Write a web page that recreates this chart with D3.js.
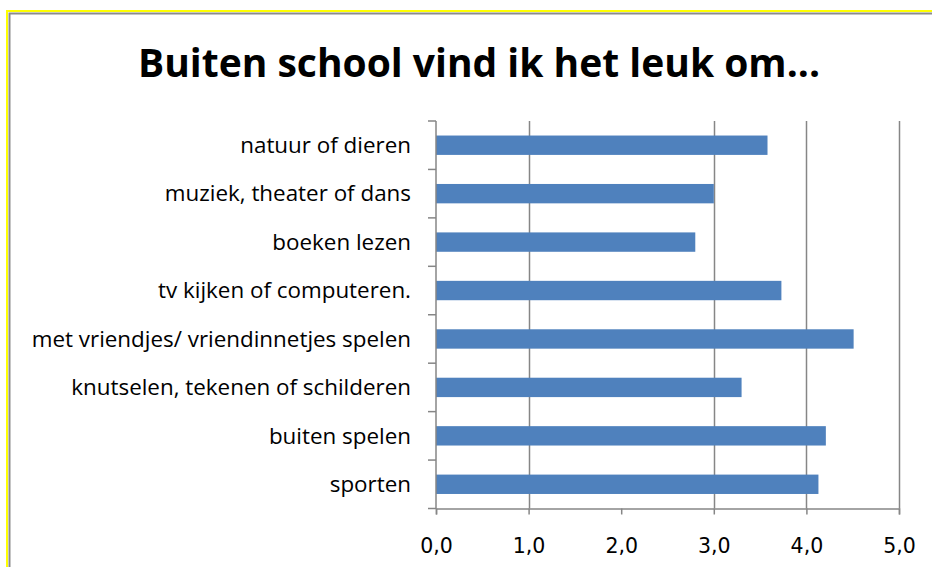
<!DOCTYPE html>
<html>
<head>
<meta charset="utf-8">
<script src="https://cdn.jsdelivr.net/npm/d3@7"></script>
<style>
  html, body { margin: 0; padding: 0; background: #fff; }
  svg { display: block; }
</style>
</head>
<body>
<svg id="chart" width="932" height="567"></svg>
<script>
const title = "Buiten school vind ik het leuk om...";
const categories = [
  "natuur of dieren",
  "muziek, theater of dans",
  "boeken lezen",
  "tv kijken of computeren.",
  "met vriendjes/ vriendinnetjes spelen",
  "knutselen, tekenen of schilderen",
  "buiten spelen",
  "sporten"
];
const values = [3.58, 3.0, 2.8, 3.73, 4.51, 3.3, 4.21, 4.13];
const tickValues = [0, 1, 2, 3, 4, 5];
const tickLabels = ["0,0", "1,0", "2,0", "3,0", "4,0", "5,0"];
const gridValues = [1, 3, 4, 5];

const svg = d3.select("#chart");
const W = 932, H = 567;

// frame
svg.append("rect").attr("x", 0).attr("y", 0).attr("width", W).attr("height", H).attr("fill", "#fff");
svg.append("path").attr("d", `M7,${H} V11 H${W}`).attr("fill", "none").attr("stroke", "#ffff00").attr("stroke-width", 2);
svg.append("path").attr("d", `M9.5,${H} V13.5 H${W}`).attr("fill", "none").attr("stroke", "#8c8c8c").attr("stroke-width", 2);

const pLeft = 436, pRight = 899, pTop = 121, pBottom = 508.5;

const x = d3.scaleLinear().domain([0, 5]).range([pLeft, pRight]);
const y = d3.scaleBand().domain(categories).range([pTop, pBottom]).paddingInner(0.6).paddingOuter(0.3);

// title
svg.append("text")
  .attr("x", 479).attr("y", 77)
  .attr("text-anchor", "middle")
  .attr("font-family", "'Open Sans', 'Noto Sans', sans-serif")
  .attr("font-weight", "bold")
  .attr("font-size", 39)
  .attr("fill", "#000")
  .text(title);

// gridlines
svg.append("g").selectAll("line").data(gridValues).join("line")
  .attr("x1", d => Math.round(x(d)) + 0.5).attr("x2", d => Math.round(x(d)) + 0.5)
  .attr("y1", pTop).attr("y2", pBottom)
  .attr("stroke", "#868686").attr("stroke-width", 1.5);

// bars
svg.append("g").selectAll("rect").data(categories).join("rect")
  .attr("x", x(0))
  .attr("y", d => y(d))
  .attr("width", (d, i) => x(values[i]) - x(0))
  .attr("height", y.bandwidth())
  .attr("fill", "#4f81bd");

// x axis
const xAxis = d3.axisBottom(x).tickValues(tickValues).tickFormat((d, i) => tickLabels[i]).tickSize(6).tickPadding(24);
const gx = svg.append("g").attr("transform", `translate(0,${pBottom})`).call(xAxis);
gx.select(".domain").attr("stroke", "#868686").attr("stroke-width", 1.5);
gx.selectAll(".tick line").attr("stroke", "#868686").attr("stroke-width", 1.5);
gx.selectAll(".tick text")
  .attr("font-family", "'DejaVu Sans', sans-serif")
  .attr("font-size", 20.5)
  .attr("fill", "#000");

// y axis (category boundaries as ticks)
const yLine = svg.append("g");
yLine.append("line").attr("x1", pLeft).attr("x2", pLeft).attr("y1", pTop).attr("y2", pBottom)
  .attr("stroke", "#868686").attr("stroke-width", 1.5);
const boundaries = d3.range(categories.length + 1).map(i => pTop + i * (pBottom - pTop) / categories.length);
yLine.selectAll(".b").data(boundaries).join("line")
  .attr("x1", pLeft - 8).attr("x2", pLeft)
  .attr("y1", d => d).attr("y2", d => d)
  .attr("stroke", "#868686").attr("stroke-width", 1.5);

svg.append("g").selectAll("text").data(categories).join("text")
  .attr("x", 411)
  .attr("y", d => y(d) + y.bandwidth() / 2)
  .attr("dy", "0.35em")
  .attr("text-anchor", "end")
  .attr("font-family", "'Open Sans', 'Noto Sans', sans-serif")
  .attr("font-size", 22.4)
  .attr("fill", "#000")
  .text(d => d);
</script>
</body>
</html>
